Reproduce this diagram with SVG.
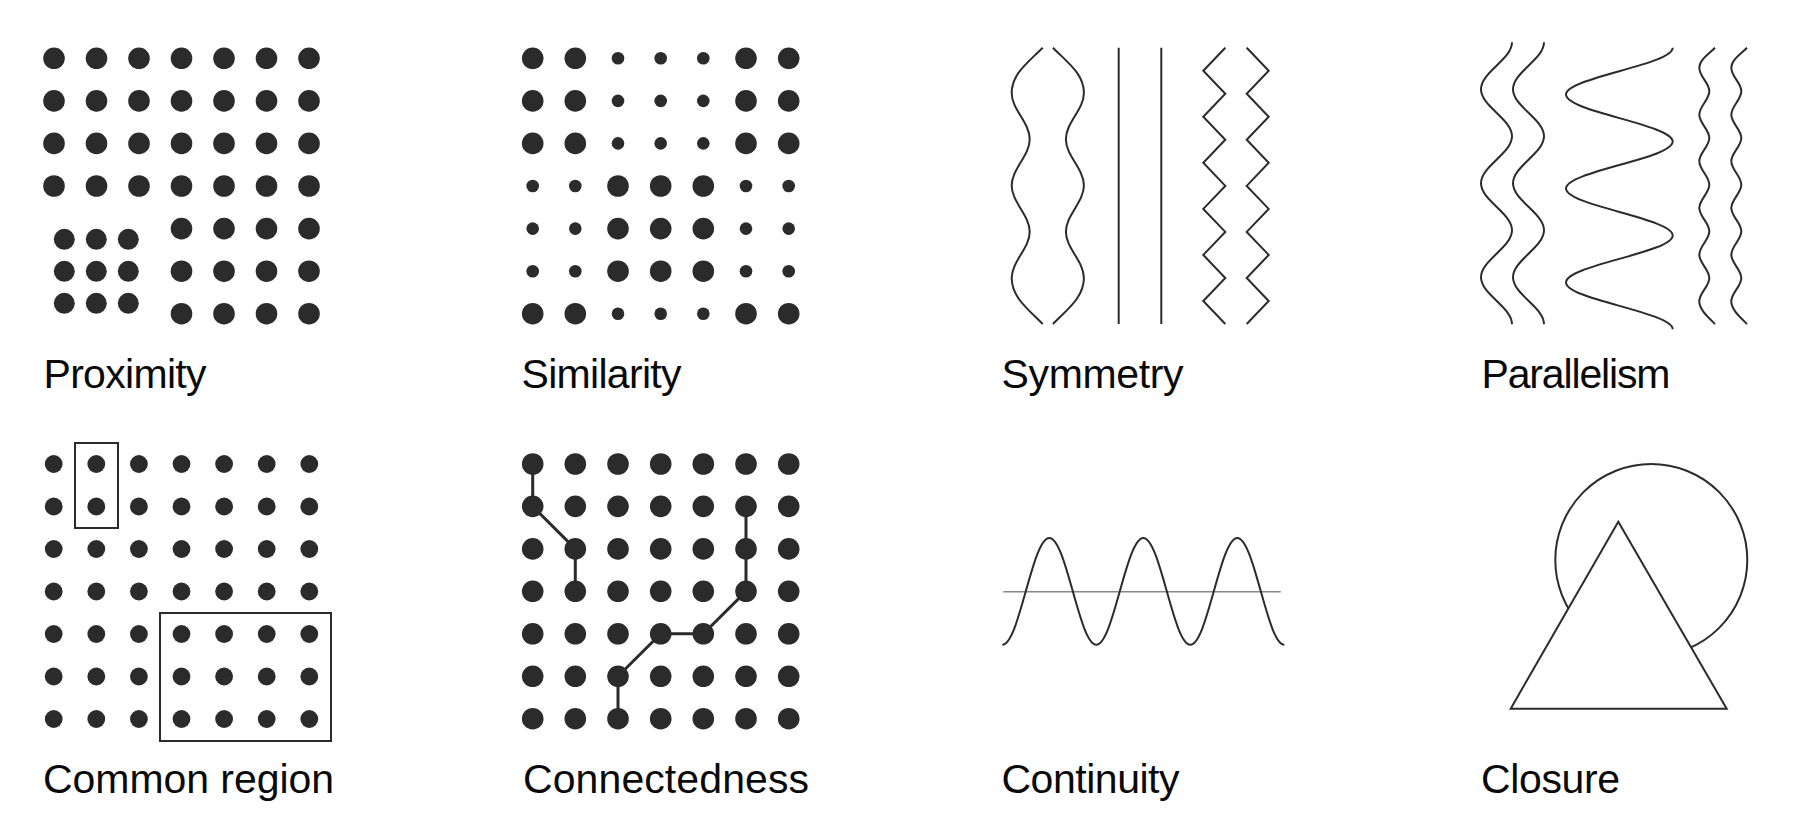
<svg xmlns="http://www.w3.org/2000/svg" xmlns:xlink="http://www.w3.org/1999/xlink" width="1796" height="828" viewBox="0 0 1796 828">
<style>
.d{fill:#2b2b2b}
.ln{fill:none;stroke:#2b2b2b;stroke-width:2}
.lbl{font-family:"Liberation Sans",Arial,sans-serif;font-size:41px;fill:#0a0a0a}
.con{fill:none;stroke:#2b2b2b;stroke-width:3}
</style>
<defs>
<path id="symL" d="M1042.7,47.7 C1027.5,63 1011.7,74 1011.7,93 C1011.7,109.8 1029.7,122.4 1029.7,139.25 C1029.7,156 1011.7,168.7 1011.7,185.5 C1011.7,202.3 1029.7,215 1029.7,231.75 C1029.7,248.5 1011.7,261.2 1011.7,278 C1011.7,297 1027.5,308.7 1042.7,324"/>
<path id="symZ" d="M1225.3,47.7 L1203.3,70.7 L1225.3,93.8 L1203.3,116.8 L1225.3,139.8 L1203.3,162.8 L1225.3,185.9 L1203.3,208.9 L1225.3,231.9 L1203.3,254.9 L1225.3,278 L1203.3,301 L1225.3,324"/>
<path id="parW" d="M1512,42.3 C1512,59.4 1481,72.2 1481,89.3 C1481,106.4 1512,119.2 1512,136.3 C1512,153.4 1481,166.2 1481,183.3 C1481,200.4 1512,213.2 1512,230.3 C1512,247.4 1481,260.2 1481,277.3 C1481,294.4 1512,307.2 1512,324.3"/>
<path id="parS" d="M1715,47.7 C1707,55.7 1699.3,60 1699.3,68 C1699.3,76.5 1709.3,82.8 1709.3,91.3 C1709.3,99.8 1699.3,106.2 1699.3,114.7 C1699.3,123.2 1709.3,129.5 1709.3,138 C1709.3,146.5 1699.3,152.8 1699.3,161.3 C1699.3,169.8 1709.3,176.2 1709.3,184.7 C1709.3,193.2 1699.3,199.5 1699.3,208 C1699.3,216.5 1709.3,222.8 1709.3,231.3 C1709.3,239.8 1699.3,246.2 1699.3,254.7 C1699.3,263.2 1709.3,269.5 1709.3,278 C1709.3,286.5 1699.3,292.8 1699.3,301.3 C1699.3,309.3 1707,316 1715,324"/>
</defs>
<rect width="1796" height="828" fill="#ffffff"/>

<g id="proximity">
<circle class="d" cx="54" cy="58.3" r="10.8"/><circle class="d" cx="96.5" cy="58.3" r="10.8"/><circle class="d" cx="139" cy="58.3" r="10.8"/><circle class="d" cx="181.5" cy="58.3" r="10.8"/><circle class="d" cx="224" cy="58.3" r="10.8"/><circle class="d" cx="266.5" cy="58.3" r="10.8"/><circle class="d" cx="309" cy="58.3" r="10.8"/>
<circle class="d" cx="54" cy="100.9" r="10.8"/><circle class="d" cx="96.5" cy="100.9" r="10.8"/><circle class="d" cx="139" cy="100.9" r="10.8"/><circle class="d" cx="181.5" cy="100.9" r="10.8"/><circle class="d" cx="224" cy="100.9" r="10.8"/><circle class="d" cx="266.5" cy="100.9" r="10.8"/><circle class="d" cx="309" cy="100.9" r="10.8"/>
<circle class="d" cx="54" cy="143.4" r="10.8"/><circle class="d" cx="96.5" cy="143.4" r="10.8"/><circle class="d" cx="139" cy="143.4" r="10.8"/><circle class="d" cx="181.5" cy="143.4" r="10.8"/><circle class="d" cx="224" cy="143.4" r="10.8"/><circle class="d" cx="266.5" cy="143.4" r="10.8"/><circle class="d" cx="309" cy="143.4" r="10.8"/>
<circle class="d" cx="54" cy="186" r="10.8"/><circle class="d" cx="96.5" cy="186" r="10.8"/><circle class="d" cx="139" cy="186" r="10.8"/><circle class="d" cx="181.5" cy="186" r="10.8"/><circle class="d" cx="224" cy="186" r="10.8"/><circle class="d" cx="266.5" cy="186" r="10.8"/><circle class="d" cx="309" cy="186" r="10.8"/>
<circle class="d" cx="181.5" cy="228.6" r="10.8"/><circle class="d" cx="224" cy="228.6" r="10.8"/><circle class="d" cx="266.5" cy="228.6" r="10.8"/><circle class="d" cx="309" cy="228.6" r="10.8"/>
<circle class="d" cx="181.5" cy="271.2" r="10.8"/><circle class="d" cx="224" cy="271.2" r="10.8"/><circle class="d" cx="266.5" cy="271.2" r="10.8"/><circle class="d" cx="309" cy="271.2" r="10.8"/>
<circle class="d" cx="181.5" cy="313.7" r="10.8"/><circle class="d" cx="224" cy="313.7" r="10.8"/><circle class="d" cx="266.5" cy="313.7" r="10.8"/><circle class="d" cx="309" cy="313.7" r="10.8"/>
<circle class="d" cx="64.3" cy="239.3" r="10.5"/><circle class="d" cx="96.3" cy="239.3" r="10.5"/><circle class="d" cx="128.3" cy="239.3" r="10.5"/>
<circle class="d" cx="64.3" cy="271.3" r="10.5"/><circle class="d" cx="96.3" cy="271.3" r="10.5"/><circle class="d" cx="128.3" cy="271.3" r="10.5"/>
<circle class="d" cx="64.3" cy="303.3" r="10.5"/><circle class="d" cx="96.3" cy="303.3" r="10.5"/><circle class="d" cx="128.3" cy="303.3" r="10.5"/>
<text class="lbl" x="43.5" y="387.5" textLength="163" lengthAdjust="spacing">Proximity</text>
</g>

<g id="similarity">
<circle class="d" cx="532.7" cy="58.3" r="10.8"/><circle class="d" cx="575.3" cy="58.3" r="10.8"/><circle class="d" cx="618" cy="58.3" r="6.3"/><circle class="d" cx="660.7" cy="58.3" r="6.3"/><circle class="d" cx="703.3" cy="58.3" r="6.3"/><circle class="d" cx="746" cy="58.3" r="10.8"/><circle class="d" cx="788.7" cy="58.3" r="10.8"/>
<circle class="d" cx="532.7" cy="100.9" r="10.8"/><circle class="d" cx="575.3" cy="100.9" r="10.8"/><circle class="d" cx="618" cy="100.9" r="6.3"/><circle class="d" cx="660.7" cy="100.9" r="6.3"/><circle class="d" cx="703.3" cy="100.9" r="6.3"/><circle class="d" cx="746" cy="100.9" r="10.8"/><circle class="d" cx="788.7" cy="100.9" r="10.8"/>
<circle class="d" cx="532.7" cy="143.4" r="10.8"/><circle class="d" cx="575.3" cy="143.4" r="10.8"/><circle class="d" cx="618" cy="143.4" r="6.3"/><circle class="d" cx="660.7" cy="143.4" r="6.3"/><circle class="d" cx="703.3" cy="143.4" r="6.3"/><circle class="d" cx="746" cy="143.4" r="10.8"/><circle class="d" cx="788.7" cy="143.4" r="10.8"/>
<circle class="d" cx="532.7" cy="186" r="6.3"/><circle class="d" cx="575.3" cy="186" r="6.3"/><circle class="d" cx="618" cy="186" r="10.8"/><circle class="d" cx="660.7" cy="186" r="10.8"/><circle class="d" cx="703.3" cy="186" r="10.8"/><circle class="d" cx="746" cy="186" r="6.3"/><circle class="d" cx="788.7" cy="186" r="6.3"/>
<circle class="d" cx="532.7" cy="228.6" r="6.3"/><circle class="d" cx="575.3" cy="228.6" r="6.3"/><circle class="d" cx="618" cy="228.6" r="10.8"/><circle class="d" cx="660.7" cy="228.6" r="10.8"/><circle class="d" cx="703.3" cy="228.6" r="10.8"/><circle class="d" cx="746" cy="228.6" r="6.3"/><circle class="d" cx="788.7" cy="228.6" r="6.3"/>
<circle class="d" cx="532.7" cy="271.2" r="6.3"/><circle class="d" cx="575.3" cy="271.2" r="6.3"/><circle class="d" cx="618" cy="271.2" r="10.8"/><circle class="d" cx="660.7" cy="271.2" r="10.8"/><circle class="d" cx="703.3" cy="271.2" r="10.8"/><circle class="d" cx="746" cy="271.2" r="6.3"/><circle class="d" cx="788.7" cy="271.2" r="6.3"/>
<circle class="d" cx="532.7" cy="313.7" r="10.8"/><circle class="d" cx="575.3" cy="313.7" r="10.8"/><circle class="d" cx="618" cy="313.7" r="6.3"/><circle class="d" cx="660.7" cy="313.7" r="6.3"/><circle class="d" cx="703.3" cy="313.7" r="6.3"/><circle class="d" cx="746" cy="313.7" r="10.8"/><circle class="d" cx="788.7" cy="313.7" r="10.8"/>
<text class="lbl" x="521.5" y="387.5" textLength="160" lengthAdjust="spacing">Similarity</text>
</g>

<g id="symmetry">
<use xlink:href="#symL" href="#symL" class="ln"/>
<use xlink:href="#symL" href="#symL" class="ln" transform="matrix(-1 0 0 1 2095.6 0)"/>
<line class="ln" x1="1118.7" y1="47.7" x2="1118.7" y2="324"/>
<line class="ln" x1="1161.3" y1="47.7" x2="1161.3" y2="324"/>
<use xlink:href="#symZ" href="#symZ" class="ln"/>
<use xlink:href="#symZ" href="#symZ" class="ln" transform="matrix(-1 0 0 1 2472 0)"/>
<text class="lbl" x="1001.5" y="387.5" textLength="182" lengthAdjust="spacing">Symmetry</text>
</g>

<g id="parallelism">
<use xlink:href="#parW" href="#parW" class="ln"/>
<use xlink:href="#parW" href="#parW" class="ln" transform="translate(32 0)"/>
<path class="ln" d="M1672.7,47.7 C1672.7,64.8 1566,77.6 1566,94.6 C1566,111.7 1672.7,124.5 1672.7,141.6 C1672.7,158.7 1566,171.4 1566,188.5 C1566,205.6 1672.7,218.4 1672.7,235.4 C1672.7,252.5 1566,265.3 1566,282.4 C1566,299.5 1672.7,312.2 1672.7,329.3"/>
<use xlink:href="#parS" href="#parS" class="ln"/>
<use xlink:href="#parS" href="#parS" class="ln" transform="translate(32 0)"/>
<text class="lbl" x="1481.5" y="387.5" textLength="189" lengthAdjust="spacing">Parallelism</text>
</g>

<g id="common-region">
<circle class="d" cx="53.7" cy="464" r="8.9"/><circle class="d" cx="96.3" cy="464" r="8.9"/><circle class="d" cx="138.9" cy="464" r="8.9"/><circle class="d" cx="181.5" cy="464" r="8.9"/><circle class="d" cx="224.1" cy="464" r="8.9"/><circle class="d" cx="266.7" cy="464" r="8.9"/><circle class="d" cx="309.3" cy="464" r="8.9"/>
<circle class="d" cx="53.7" cy="506.5" r="8.9"/><circle class="d" cx="96.3" cy="506.5" r="8.9"/><circle class="d" cx="138.9" cy="506.5" r="8.9"/><circle class="d" cx="181.5" cy="506.5" r="8.9"/><circle class="d" cx="224.1" cy="506.5" r="8.9"/><circle class="d" cx="266.7" cy="506.5" r="8.9"/><circle class="d" cx="309.3" cy="506.5" r="8.9"/>
<circle class="d" cx="53.7" cy="549" r="8.9"/><circle class="d" cx="96.3" cy="549" r="8.9"/><circle class="d" cx="138.9" cy="549" r="8.9"/><circle class="d" cx="181.5" cy="549" r="8.9"/><circle class="d" cx="224.1" cy="549" r="8.9"/><circle class="d" cx="266.7" cy="549" r="8.9"/><circle class="d" cx="309.3" cy="549" r="8.9"/>
<circle class="d" cx="53.7" cy="591.5" r="8.9"/><circle class="d" cx="96.3" cy="591.5" r="8.9"/><circle class="d" cx="138.9" cy="591.5" r="8.9"/><circle class="d" cx="181.5" cy="591.5" r="8.9"/><circle class="d" cx="224.1" cy="591.5" r="8.9"/><circle class="d" cx="266.7" cy="591.5" r="8.9"/><circle class="d" cx="309.3" cy="591.5" r="8.9"/>
<circle class="d" cx="53.7" cy="634" r="8.9"/><circle class="d" cx="96.3" cy="634" r="8.9"/><circle class="d" cx="138.9" cy="634" r="8.9"/><circle class="d" cx="181.5" cy="634" r="8.9"/><circle class="d" cx="224.1" cy="634" r="8.9"/><circle class="d" cx="266.7" cy="634" r="8.9"/><circle class="d" cx="309.3" cy="634" r="8.9"/>
<circle class="d" cx="53.7" cy="676.5" r="8.9"/><circle class="d" cx="96.3" cy="676.5" r="8.9"/><circle class="d" cx="138.9" cy="676.5" r="8.9"/><circle class="d" cx="181.5" cy="676.5" r="8.9"/><circle class="d" cx="224.1" cy="676.5" r="8.9"/><circle class="d" cx="266.7" cy="676.5" r="8.9"/><circle class="d" cx="309.3" cy="676.5" r="8.9"/>
<circle class="d" cx="53.7" cy="719" r="8.9"/><circle class="d" cx="96.3" cy="719" r="8.9"/><circle class="d" cx="138.9" cy="719" r="8.9"/><circle class="d" cx="181.5" cy="719" r="8.9"/><circle class="d" cx="224.1" cy="719" r="8.9"/><circle class="d" cx="266.7" cy="719" r="8.9"/><circle class="d" cx="309.3" cy="719" r="8.9"/>
<rect class="ln" x="75" y="443" width="43" height="85"/>
<rect class="ln" x="160" y="613" width="171" height="128"/>
<text class="lbl" x="43" y="793" textLength="291" lengthAdjust="spacing">Common region</text>
</g>

<g id="connectors">
<polyline class="con" points="532.7,464 532.7,506.4 575.3,548.9 575.3,591.3"/>
<polyline class="con" points="746,506.4 746,548.9 746,591.3 703.3,633.8 660.7,633.8 618,676.3 618,718.7"/>
</g>

<g id="connectedness">
<circle class="d" cx="532.7" cy="464" r="10.8"/><circle class="d" cx="575.3" cy="464" r="10.8"/><circle class="d" cx="618" cy="464" r="10.8"/><circle class="d" cx="660.7" cy="464" r="10.8"/><circle class="d" cx="703.3" cy="464" r="10.8"/><circle class="d" cx="746" cy="464" r="10.8"/><circle class="d" cx="788.7" cy="464" r="10.8"/>
<circle class="d" cx="532.7" cy="506.4" r="10.8"/><circle class="d" cx="575.3" cy="506.4" r="10.8"/><circle class="d" cx="618" cy="506.4" r="10.8"/><circle class="d" cx="660.7" cy="506.4" r="10.8"/><circle class="d" cx="703.3" cy="506.4" r="10.8"/><circle class="d" cx="746" cy="506.4" r="10.8"/><circle class="d" cx="788.7" cy="506.4" r="10.8"/>
<circle class="d" cx="532.7" cy="548.9" r="10.8"/><circle class="d" cx="575.3" cy="548.9" r="10.8"/><circle class="d" cx="618" cy="548.9" r="10.8"/><circle class="d" cx="660.7" cy="548.9" r="10.8"/><circle class="d" cx="703.3" cy="548.9" r="10.8"/><circle class="d" cx="746" cy="548.9" r="10.8"/><circle class="d" cx="788.7" cy="548.9" r="10.8"/>
<circle class="d" cx="532.7" cy="591.3" r="10.8"/><circle class="d" cx="575.3" cy="591.3" r="10.8"/><circle class="d" cx="618" cy="591.3" r="10.8"/><circle class="d" cx="660.7" cy="591.3" r="10.8"/><circle class="d" cx="703.3" cy="591.3" r="10.8"/><circle class="d" cx="746" cy="591.3" r="10.8"/><circle class="d" cx="788.7" cy="591.3" r="10.8"/>
<circle class="d" cx="532.7" cy="633.8" r="10.8"/><circle class="d" cx="575.3" cy="633.8" r="10.8"/><circle class="d" cx="618" cy="633.8" r="10.8"/><circle class="d" cx="660.7" cy="633.8" r="10.8"/><circle class="d" cx="703.3" cy="633.8" r="10.8"/><circle class="d" cx="746" cy="633.8" r="10.8"/><circle class="d" cx="788.7" cy="633.8" r="10.8"/>
<circle class="d" cx="532.7" cy="676.3" r="10.8"/><circle class="d" cx="575.3" cy="676.3" r="10.8"/><circle class="d" cx="618" cy="676.3" r="10.8"/><circle class="d" cx="660.7" cy="676.3" r="10.8"/><circle class="d" cx="703.3" cy="676.3" r="10.8"/><circle class="d" cx="746" cy="676.3" r="10.8"/><circle class="d" cx="788.7" cy="676.3" r="10.8"/>
<circle class="d" cx="532.7" cy="718.7" r="10.8"/><circle class="d" cx="575.3" cy="718.7" r="10.8"/><circle class="d" cx="618" cy="718.7" r="10.8"/><circle class="d" cx="660.7" cy="718.7" r="10.8"/><circle class="d" cx="703.3" cy="718.7" r="10.8"/><circle class="d" cx="746" cy="718.7" r="10.8"/><circle class="d" cx="788.7" cy="718.7" r="10.8"/>
<text class="lbl" x="523" y="793" textLength="286" lengthAdjust="spacing">Connectedness</text>
</g>

<g id="continuity">
<line x1="1003.3" y1="591.7" x2="1280.7" y2="591.7" stroke="#8b8583" stroke-width="1.6"/>
<path class="ln" d="M1002.3,644.7 C1019.4,644.7 1032.2,538 1049.3,538 C1066.4,538 1079.2,644.7 1096.3,644.7 C1113.4,644.7 1126.2,538 1143.3,538 C1160.4,538 1173.2,644.7 1190.3,644.7 C1207.4,644.7 1220.2,538 1237.3,538 C1254.4,538 1267.2,644.7 1284.3,644.7"/>
<text class="lbl" x="1001.5" y="793" textLength="178" lengthAdjust="spacing">Continuity</text>
</g>

<g id="closure">
<circle class="ln" cx="1651.3" cy="560" r="96"/>
<polygon points="1618.3,521.7 1510.7,708.7 1726.7,708.7" fill="#ffffff" stroke="#2b2b2b" stroke-width="2"/>
<text class="lbl" x="1481" y="793" textLength="139" lengthAdjust="spacing">Closure</text>
</g>
</svg>
